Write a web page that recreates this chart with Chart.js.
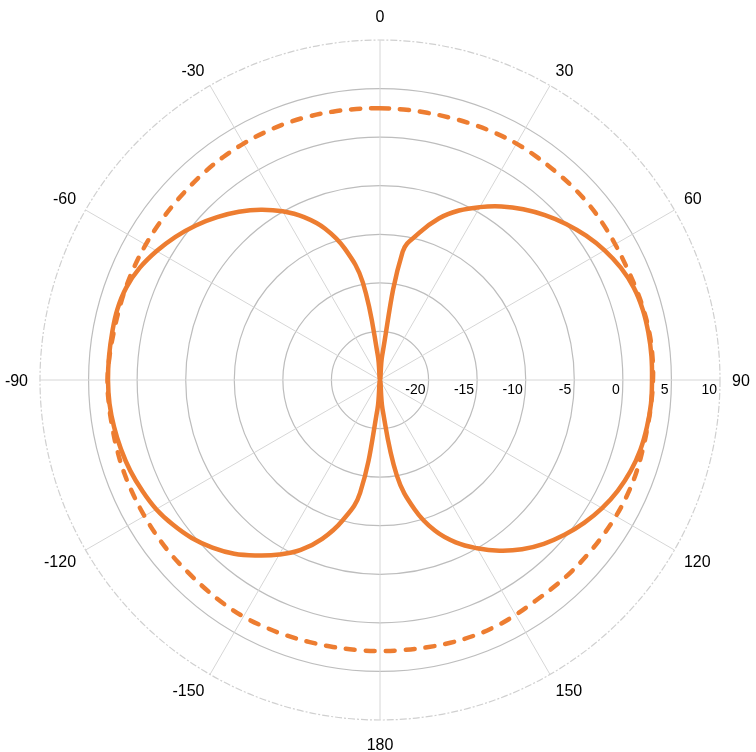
<!DOCTYPE html>
<html>
<head>
<meta charset="utf-8">
<script src="https://cdn.jsdelivr.net/npm/chart.js@4.4.1/dist/chart.umd.min.js"></script>
<style>
  html, body { margin: 0; padding: 0; background: #fff; }
  #wrap { width: 756px; height: 752px; }
</style>
</head>
<body>
<div id="wrap"><canvas id="chart"></canvas></div>
<script>
// angle of every sample, degrees clockwise from the top
const angles = [
  0, 5, 10, 15, 20, 25, 30, 35, 40, 45, 50, 55, 60, 65, 70, 75, 80, 85,
  90, 95, 100, 105, 110, 115, 120, 125, 130, 135, 140, 145, 150, 155, 160, 165, 170, 175,
  180, 185, 190, 195, 200, 205, 210, 215, 220, 225, 230, 235, 240, 245, 250, 255, 260, 265,
  270, 275, 280, 285, 290, 295, 300, 305, 310, 315, 320, 325, 330, 335, 340, 345, 350, 355
];

// solid curve (figure-eight), dB
const ePlane = [
  -25, -22.5, -11.6, -9.3, -7.3, -5.75, -4.45, -3.2, -2.05, -1.0, 0.0, 0.9, 1.7, 2.35, 2.8, 3.0, 3.05, 3.05,
  3.0, 3.0, 2.9, 2.75, 2.45, 2.0, 1.4, 0.65, -0.2, -1.15, -2.25, -3.55, -5.0, -6.55, -8.5, -11.2, -15.0, -22,
  -25, -22, -13.2, -10.0, -7.6, -5.7, -4.25, -2.95, -1.65, -0.6, 0.3, 1.0, 1.6, 2.0, 2.35, 2.6, 2.8, 2.95,
  3.0, 3.0, 3.0, 3.0, 2.8, 2.3, 1.55, 0.7, -0.25, -1.3, -2.4, -3.6, -4.95, -6.5, -8.4, -11.0, -14.8, -22.5
];

// dashed curve (near omni), dB
const hPlane = [
  2.97, 2.95, 2.93, 2.95, 3.0, 3.05, 3.1, 3.07, 3.05, 3.08, 3.08, 3.02, 2.95, 2.92, 2.98, 3.08, 3.15, 3.15,
  3.1, 3.02, 2.96, 2.98, 3.05, 3.07, 3.04, 2.97, 2.92, 2.88, 2.82, 2.8, 2.92, 3.02, 3.04, 3.0, 2.94, 2.9,
  2.9, 2.89, 2.9, 2.93, 3.0, 3.06, 3.12, 3.09, 3.02, 2.98, 3.01, 3.01, 3.0, 3.0, 3.02, 3.0, 2.98, 3.02,
  3.05, 2.95, 2.85, 2.82, 2.84, 2.85, 2.85, 2.86, 2.88, 2.92, 3.0, 3.06, 3.1, 3.12, 3.13, 3.1, 3.05, 3.0
];

const angleTicks = [0, 30, 60, 90, 120, 150, 180, -150, -120, -90, -60, -30];
const radialTicks = [-20, -15, -10, -5, 0, 5, 10];

const ORANGE = '#ED7D31';
const FONT = '"Liberation Sans", Arial, sans-serif';

// tick and angle labels, placed Excel-style
const polarLabels = {
  id: 'polarLabels',
  afterDraw(chart) {
    const r = chart.scales.r;
    const ctx = chart.ctx;
    ctx.save();
    ctx.fillStyle = '#000';
    ctx.textBaseline = 'alphabetic';

    ctx.font = '14px ' + FONT;
    ctx.textAlign = 'right';
    radialTicks.forEach(v => {
      const d = r.getDistanceFromCenterForValue(v);
      ctx.fillText(String(v), r.xCenter + d - 3, r.yCenter + 14);
    });

    ctx.font = '16px ' + FONT;
    ctx.textAlign = 'center';
    angleTicks.forEach(a => {
      const idx = angles.indexOf((a + 360) % 360);
      const p = r.getPointPosition(idx, r.drawingArea + 11);
      const text = String(a);
      const w = ctx.measureText(text).width;
      const rad = a * Math.PI / 180;
      const s = Math.round(Math.sin(rad) * 1000) / 1000;
      const c = Math.round(Math.cos(rad) * 1000) / 1000;
      const x = p.x + Math.sign(s) * (w / 2 + (c === 0 ? 1 : 0));
      const y = p.y - Math.sign(c) * (s === 0 ? 13 : 6);
      ctx.fillText(text, x, y + 5.7);
    });
    ctx.restore();
  }
};

new Chart(document.getElementById('chart'), {
  type: 'radar',
  data: {
    labels: angles,
    datasets: [
      {
        label: 'E-plane',
        data: ePlane,
        borderColor: ORANGE,
        borderWidth: 4.5,
        borderJoinStyle: 'round',
        pointRadius: 0,
        fill: false,
        tension: 0.4
      },
      {
        label: 'H-plane',
        data: hPlane,
        borderColor: ORANGE,
        borderWidth: 4.5,
        borderDash: [9, 11],
        borderCapStyle: 'round',
        borderJoinStyle: 'round',
        pointRadius: 0,
        fill: false,
        tension: 0.4
      }
    ]
  },
  options: {
    responsive: true,
    maintainAspectRatio: false,
    animation: false,
    layout: { padding: { left: 40, top: 40, right: 36, bottom: 32 } },
    plugins: {
      legend: { display: false },
      tooltip: { enabled: false }
    },
    scales: {
      r: {
        min: -25,
        max: 10,
        ticks: { stepSize: 5, display: false },
        pointLabels: { display: false },
        grid: {
          circular: true,
          color: ctx => ctx.tick && ctx.tick.value === 10 ? '#d0d0d0' : '#bdbdbd',
          lineWidth: ctx => ctx.tick && ctx.tick.value === -25 ? 0 : 1.2
        },
        border: {
          dash: ctx => ctx.tick && ctx.tick.value === 10 ? [7, 2, 2, 2] : []
        },
        angleLines: {
          color: '#d6d6d6',
          lineWidth: ctx => ctx.index % 6 === 0 ? 1 : 0
        }
      }
    }
  },
  plugins: [polarLabels]
});
</script>
</body>
</html>
